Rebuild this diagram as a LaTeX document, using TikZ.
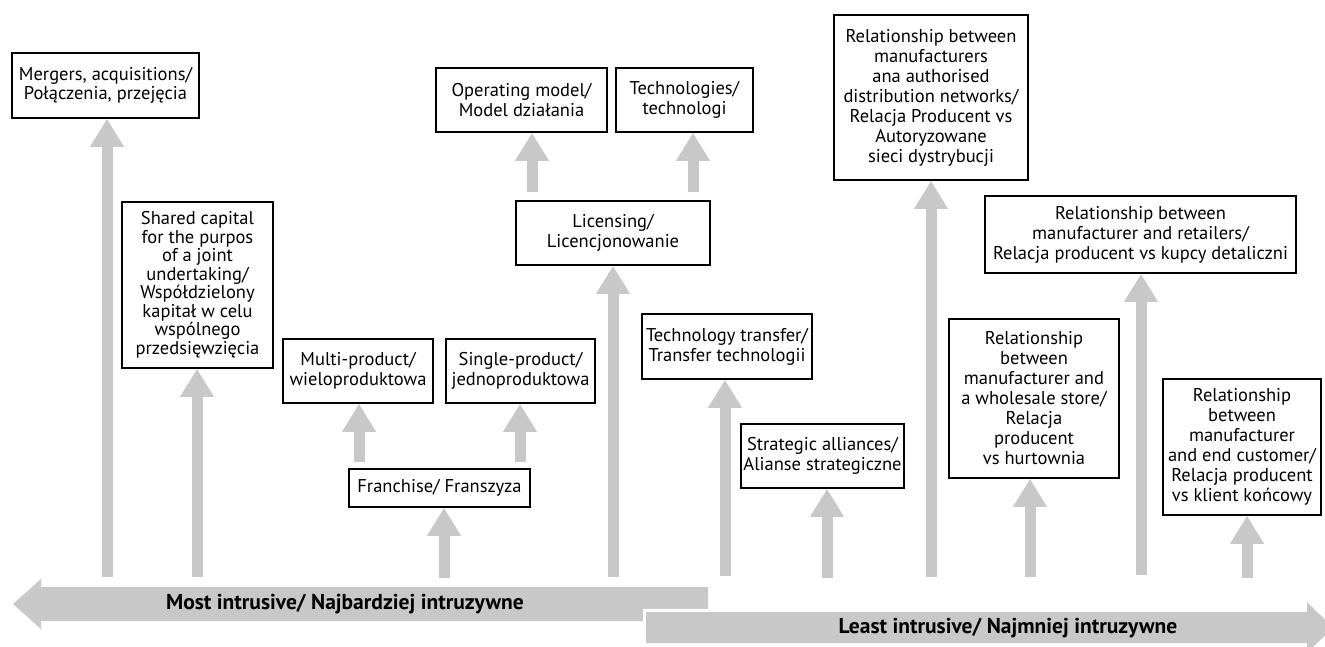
\documentclass[tikz,border=0pt]{standalone}
\usepackage{fontspec}
\setmainfont{PT Sans}
\usetikzlibrary{arrows.meta}
\definecolor{arrowgray}{RGB}{200,200,200}
\newcommand\mybox[7][]{%
  \node[box,#1,minimum width={(#5-#3)*1pt},minimum height={(#6-#4)*1pt}] (#2) at ({(#3+#5)/2},{(#4+#6)/2}) {#7};}
\tikzset{
  box/.style={draw=black,line width=1.6pt,rectangle,inner sep=0pt,align=center,fill=white,
    font=\fontsize{18.5}{20}\selectfont},
  tight/.style={font=\fontsize{18.5}{18.5}\selectfont},
  up/.style={draw=arrowgray,line width=11pt,-{Triangle[width=32pt,length=28pt]}},
  axis/.style={fill=arrowgray},
  axislabel/.style={font=\fontsize{21.5}{24}\selectfont\bfseries,inner sep=0pt}
}
\begin{document}
\begin{tikzpicture}[x=1pt,y=-1pt]
\useasboundingbox (0,0) rectangle (1325,646);
\begin{scope}
\clip (0,0) rectangle (1325,646);
% bottom axes
\fill[axis] (708,587) -- (41,587) -- (41,579) -- (13,604) -- (41,629) -- (41,621) -- (708,621) -- cycle;
\filldraw[draw=white,fill=arrowgray,line width=6pt,line join=miter] (646,612) -- (1307,612) -- (1307,602) -- (1333,627.5) -- (1307,653) -- (1307,643) -- (646,643) -- cycle;
\fill[axis] (646,612) -- (1307,612) -- (1307,602) -- (1333,627.5) -- (1307,653) -- (1307,643) -- (646,643) -- cycle;
\end{scope}
\node[axislabel] (most) at (345,604) {Most intrusive/ Najbardziej intruzywne};
\node[axislabel] (least) at (1008,628) {Least intrusive/ Najmniej intruzywne};
% boxes
\mybox[tight]{mer}{12}{53}{199}{118}{Mergers, acquisitions/\\Połączenia, przejęcia}
\mybox[tight]{sha}{122}{202}{273}{368}{Shared capital\\for the purpos\\of a joint\\undertaking/\\Współdzielony\\kapitał w celu\\wspólnego\\przedsięwzięcia}
\mybox{op}{436}{68}{607}{132}{Operating model/\\Model działania}
\mybox{tec}{616}{68}{753}{132}{Technologies/\\technologi}
\mybox{lic}{516}{201}{710}{265}{Licensing/\\Licencjonowanie}
\mybox{mul}{283}{339}{433}{403}{Multi-product/\\wieloproduktowa}
\mybox{sin}{446}{339}{595}{403}{Single-product/\\jednoproduktowa}
\mybox{fra}{349}{469}{530}{507}{Franchise/ Franszyza}
\mybox{tt}{642}{314}{812}{379}{Technology transfer/\\Transfer technologii}
\mybox{sa}{741}{424}{904}{488}{Strategic alliances/\\Alianse strategiczne}
\mybox{dis}{834}{15}{1028}{180}{Relationship between\\manufacturers\\ana authorised\\distribution networks/\\Relacja Producent vs\\Autoryzowane\\sieci dystrybucji}
\mybox{ret}{985}{196}{1296}{273}{Relationship between\\manufacturer and retailers/\\Relacja producent vs kupcy detaliczni}
\mybox{who}{949}{319}{1119}{478}{Relationship\\between\\manufacturer and\\a wholesale store/\\Relacja\\producent\\vs hurtownia}
\mybox{end}{1163}{379}{1321}{515}{Relationship\\between\\manufacturer\\and end customer/\\Relacja producent\\vs klient końcowy}
% arrow bases
\coordinate (b1) at (107,577);
\coordinate (b2) at (197,577);
\coordinate (b3) at (444,578);
\coordinate (b4) at (359,462);
\coordinate (b5) at (520,462);
\coordinate (b6) at (613,577);
\coordinate (b7) at (532,192);
\coordinate (b8) at (693,192);
\coordinate (b9) at (725,576);
\coordinate (b10) at (827,578);
\coordinate (b11) at (931,577);
\coordinate (b12) at (1030,577);
\coordinate (b13) at (1141,575);
\coordinate (b14) at (1247,578);
\draw[up] (b1) -- (b1 |- mer.south);
\draw[up] (b2) -- (b2 |- sha.south);
\draw[up] (b3) -- (b3 |- fra.south);
\draw[up] (b4) -- (b4 |- mul.south);
\draw[up] (b5) -- (b5 |- sin.south);
\draw[up] (b6) -- (b6 |- lic.south);
\draw[up] (b7) -- (b7 |- op.south);
\draw[up] (b8) -- (b8 |- tec.south);
\draw[up] (b9) -- (b9 |- tt.south);
\draw[up] (b10) -- (b10 |- sa.south);
\draw[up] (b11) -- (b11 |- dis.south);
\draw[up] (b12) -- (b12 |- who.south);
\draw[up] (b13) -- (b13 |- ret.south);
\draw[up] (b14) -- (b14 |- end.south);
\end{tikzpicture}
\end{document}
